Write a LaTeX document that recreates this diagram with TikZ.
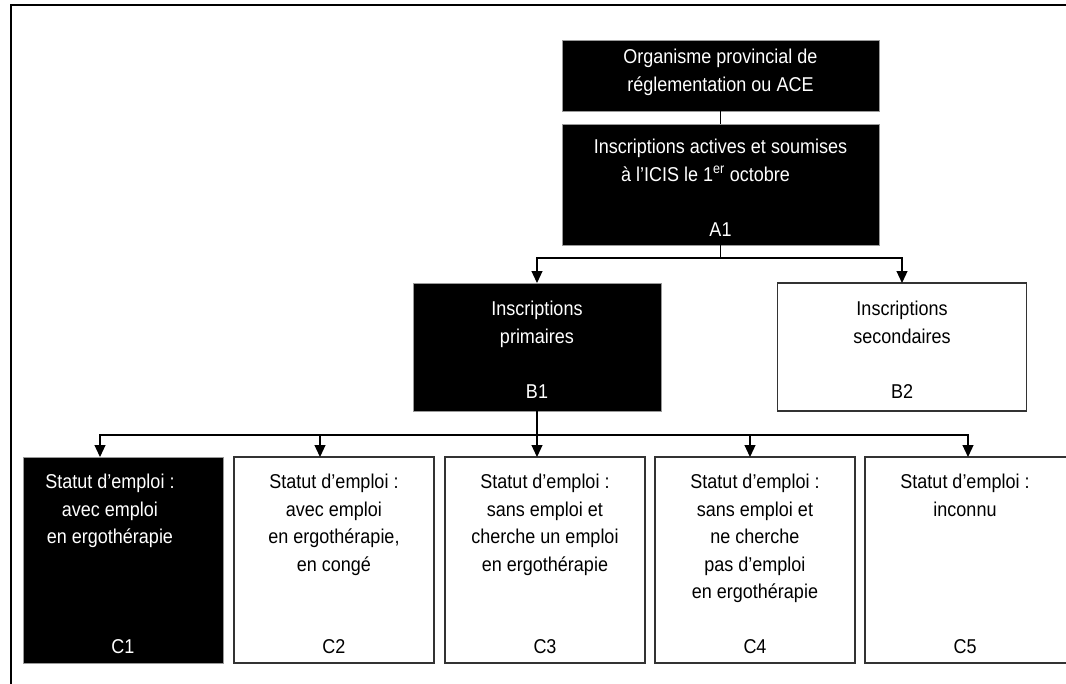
\documentclass[tikz,border=0pt]{standalone}
\usepackage{fontspec}
\setmainfont{Liberation Sans}[FakeStretch=0.9]
\usetikzlibrary{arrows.meta, positioning}

\begin{document}
\begin{tikzpicture}[
    x=1pt, y=-1pt,
    every node/.style={font=\fontsize{20}{27.5}\selectfont},
    darkbox/.style={rectangle, draw=black!40, fill=black, line width=0.8pt, inner sep=0pt, outer sep=0pt},
    lightbox/.style={rectangle, draw=black!80, fill=white, line width=1.2pt, inner sep=0pt, outer sep=0pt},
    boxtext/.style={anchor=north, inner sep=0pt, align=center},
    idtext/.style={anchor=base, inner sep=0pt},
    arrow/.style={->, >={Triangle[width=11pt,length=12pt]}, line width=1.2pt},
    link/.style={line width=1.2pt}
]

\path[use as bounding box, clip] (0,0) rectangle (1066,683);

% frame
\draw[line width=2.8pt] (11,690) -- (11,5) -- (1070,5);

% top level
\node[darkbox, minimum width=317pt, minimum height=71pt] (org) at (720.5,75.5) {};
\node[boxtext, text=white] (orgtxt) at (720.5,49) {Organisme provincial de\\réglementation ou ACE};

\node[darkbox, minimum width=317pt, minimum height=121pt] (insc) at (720.5,184.5) {};
\node[boxtext, text=white] (insctxt) at (720.5,139) {Inscriptions actives et soumises\\à l’ICIS le 1\textsuperscript{er} octobre\hspace*{30pt}};
\node[idtext, text=white] (a1) at (720.5,236) {A1};

% second level
\node[darkbox, minimum width=248pt, minimum height=128pt] (prim) at (537,347) {};
\node[boxtext, text=white] (primtxt) at (537,301) {Inscriptions\\primaires};
\node[idtext, text=white] (b1) at (537,398) {B1};

\node[lightbox, minimum width=249pt, minimum height=128pt] (sec) at (902,347) {};
\node[boxtext] (sectxt) at (902,301) {Inscriptions\\secondaires};
\node[idtext] (b2) at (902,398) {B2};

% third level
\node[darkbox, minimum width=200pt, minimum height=206pt] (avec) at (123,560) {};
\node[boxtext, text=white] (avectxt) at (110,474) {Statut d’emploi :\\avec emploi\\en ergothérapie};
\node[idtext, text=white] (c1) at (123,653) {C1};

\node[lightbox, minimum width=200pt, minimum height=206pt] (conge) at (334,560) {};
\node[boxtext] (congetxt) at (334,474) {Statut d’emploi :\\avec emploi\\en ergothérapie,\\en congé};
\node[idtext] (c2) at (334,653) {C2};

\node[lightbox, minimum width=200pt, minimum height=206pt] (cherche) at (545,560) {};
\node[boxtext] (cherchetxt) at (545,474) {Statut d’emploi :\\sans emploi et\\cherche un emploi\\en ergothérapie};
\node[idtext] (c3) at (545,653) {C3};

\node[lightbox, minimum width=200pt, minimum height=206pt] (nonch) at (755,560) {};
\node[boxtext] (nonchtxt) at (755,474) {Statut d’emploi :\\sans emploi et\\ne cherche\\pas d’emploi\\en ergothérapie};
\node[idtext] (c4) at (755,653) {C4};

\node[lightbox, minimum width=206pt, minimum height=206pt] (inconnu) at (968,560) {};
\node[boxtext] (inconnutxt) at (965,474) {Statut d’emploi :\\inconnu};
\node[idtext] (c5) at (965,653) {C5};

% connectors
\coordinate (abus) at (720.5,258);
\coordinate (cbus) at (537,435);

\draw[link] (org) -- (insc);
\draw[link] (insc) -- (abus);
\draw[arrow] (abus) -| (prim);
\draw[arrow] (abus) -| (sec);

\draw[link] (prim) -- (cbus);
\draw[arrow] (cbus) -| ([xshift=-23pt]avec.north);
\draw[arrow] (cbus) -| ([xshift=-14pt]conge.north);
\draw[arrow] (cbus) -- (cherche.north -| cbus);
\draw[arrow] (cbus) -| ([xshift=-5pt]nonch.north);
\draw[arrow] (cbus) -| (inconnu.north);

\end{tikzpicture}
\end{document}
